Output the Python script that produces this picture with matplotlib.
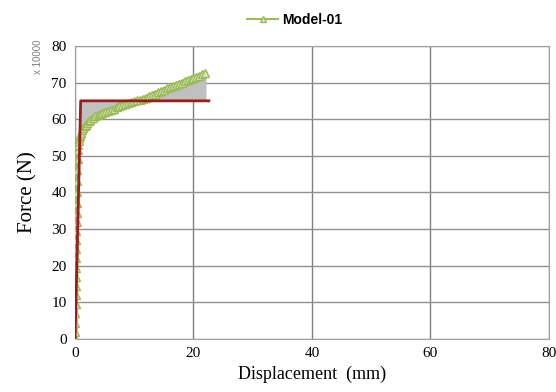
import numpy as np
import matplotlib.pyplot as plt

# Model-01 load-displacement curve (force in units of 10000 N)
disp = [0.0, 0.02, 0.04, 0.06, 0.08, 0.1, 0.12, 0.14, 0.16, 0.18, 0.2, 0.22, 0.24, 0.26,
        0.28, 0.3, 0.33, 0.36, 0.4, 0.45, 0.5, 0.55, 0.6, 0.7, 0.8, 0.9, 1.0, 1.2, 1.4,
        1.6, 1.8, 2.0, 2.3, 2.6, 3.0, 3.4, 3.8, 4.2, 4.6, 5.0, 5.5, 6.0, 6.5, 7.0, 7.5,
        8.0, 8.5, 9.0, 9.5, 10.0, 10.5, 11.0, 11.5, 12.0, 12.5, 13.0, 13.5, 14.0, 14.5,
        15.0, 15.5, 16.0, 16.5, 17.0, 17.5, 18.0, 18.5, 19.0, 19.5, 20.0, 20.5, 21.0,
        21.5, 22.0]
force = [0.0, 2.0, 4.5, 7.0, 9.5, 12.0, 14.5, 17.0, 19.5, 22.0, 24.5, 27.0, 29.5, 32.0,
         34.5, 37.0, 40.0, 43.0, 46.0, 49.0, 51.5, 53.0, 54.0, 54.8, 55.3, 55.8, 56.3,
         57.0, 57.6, 58.1, 58.5, 58.9, 59.4, 59.8, 60.4, 60.8, 61.1, 61.4, 61.7, 62.0,
         62.3, 62.6, 62.9, 63.2, 63.5, 63.8, 64.1, 64.4, 64.6, 64.9, 65.1, 65.3, 65.6,
         65.9, 66.3, 66.6, 67.0, 67.3, 67.7, 68.0, 68.4, 68.7, 69.0, 69.4, 69.7, 70.0,
         70.4, 70.7, 71.0, 71.3, 71.6, 71.9, 72.2, 72.5]

# idealised bilinear curve
bi_disp = [0.0, 0.95, 22.6]
bi_force = [0.0, 65.0, 65.0]

fig = plt.figure(figsize=(5.56, 3.92), dpi=100)
ax = fig.add_axes([0.135, 0.135, 0.852, 0.748])

# shaded area between the curve and the bilinear yield line
d = np.array(disp)
f = np.array(force)
mask = d >= bi_disp[1]
ax.fill_between(d[mask], f[mask], bi_force[1], color="#c0c0c0", zorder=2)

ax.plot(disp, force, color="#9bbb59", linewidth=3.5, marker="^", markersize=6,
        markerfacecolor="#d7e4bd", markeredgecolor="#9bbb59", markeredgewidth=1,
        label="Model-01", zorder=3)
ax.plot(bi_disp, bi_force, color="#9b1c1c", linewidth=2, zorder=4)

ax.set_xlim(0, 80)
ax.set_ylim(0, 80)
ax.set_xticks(range(0, 81, 20))
ax.set_yticks(range(0, 81, 10))
ax.xaxis.grid(True, color="#808080", linewidth=1)
ax.yaxis.grid(True, color="#909090", linewidth=1)
ax.set_axisbelow(True)
for s in ax.spines.values():
    s.set_color("#a0a0a0")
ax.tick_params(length=0, labelsize=11, pad=6)
for lab in ax.get_xticklabels() + ax.get_yticklabels():
    lab.set_family("Liberation Serif")

ax.set_xlabel("Displacement  (mm)", family="Liberation Serif", fontsize=13, labelpad=4)
ax.set_ylabel("Force (N)", family="Liberation Serif", fontsize=15, labelpad=10)
fig.text(0.068, 0.855, "x 10000", rotation=90, fontsize=7, color="#808080",
         family="Liberation Sans", ha="center", va="center")

leg = fig.legend(loc="upper center", bbox_to_anchor=(0.53, 1.0), frameon=False,
                 prop={"family": "Liberation Sans", "weight": "bold", "size": 10},
                 handlelength=2.2, handletextpad=0.3, markerscale=0.8)
for ln in leg.get_lines():
    ln.set_linewidth(1.5)

fig.savefig("out.png", dpi=100)
